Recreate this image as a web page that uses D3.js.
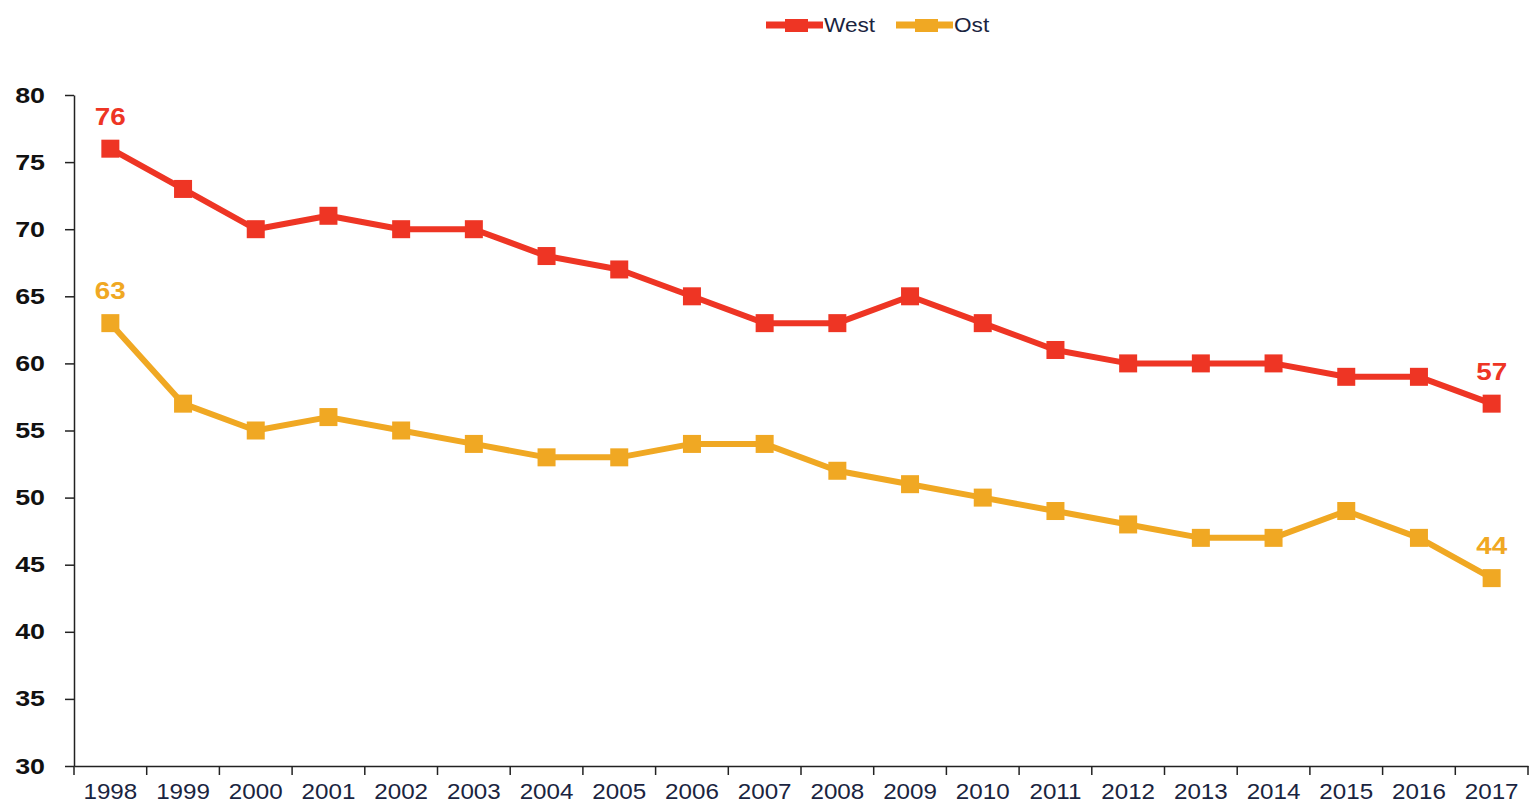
<!DOCTYPE html>
<html><head><meta charset="utf-8">
<script src="https://cdn.jsdelivr.net/npm/d3@7"></script>
<style>body{margin:0;background:#fff}svg{display:block}</style>
</head><body>
<script>
const years = ["1998","1999","2000","2001","2002","2003","2004","2005","2006","2007","2008","2009","2010","2011","2012","2013","2014","2015","2016","2017"];
const west = [76,73,70,71,70,70,68,67,65,63,63,65,63,61,60,60,60,59,59,57];
const ost  = [63,57,55,56,55,54,53,53,54,54,52,51,50,49,48,47,47,49,47,44];
const yTicks = [30,35,40,45,50,55,60,65,70,75,80];
const seriesNames = ["West","Ost"];
const colors = {West:"#EE3524", Ost:"#F0A823"};
const FONT="Liberation Sans, Arial, sans-serif";

const W=1537,H=808;
const svg=d3.select("body").append("svg").attr("width",W).attr("height",H);
const x=d3.scaleBand().domain(years).range([74,1528]);
const y=d3.scaleLinear().domain([30,80]).range([766,95]);

function stretch(sel,f){
  sel.each(function(){
    const len=this.getComputedTextLength();
    d3.select(this).attr("textLength",len*f).attr("lengthAdjust","spacingAndGlyphs");
  });
}

// y axis
const ya=svg.append("g").attr("transform","translate(74,0)")
  .call(d3.axisLeft(y).tickValues(yTicks).tickSize(9).tickPadding(20).tickSizeOuter(0));
ya.select(".domain").attr("stroke","#222").attr("stroke-width",1.5);
ya.selectAll(".tick line").attr("stroke","#222").attr("stroke-width",1.5);
ya.selectAll("text").attr("font-family",FONT).attr("font-size",22).attr("font-weight","bold").attr("fill","#111");
stretch(ya.selectAll("text"),1.22);

// x axis
const xa=svg.append("g").attr("transform","translate(0,766)")
  .call(d3.axisBottom(x).tickSize(0).tickPadding(0).tickSizeOuter(0));
xa.select(".domain").attr("stroke","#222").attr("stroke-width",1.5);
xa.selectAll("text").attr("dy",null).attr("y",33).attr("font-family",FONT).attr("font-size",22).attr("fill","#1a2440");
stretch(xa.selectAll("text"),1.1);
// boundary ticks
const bounds=years.map(d=>x(d)).concat([x(years[years.length-1])+x.bandwidth()]);
svg.append("g").selectAll("line").data(bounds).join("line")
  .attr("x1",d=>d).attr("x2",d=>d).attr("y1",766).attr("y2",775)
  .attr("stroke","#222").attr("stroke-width",1.5);

const data={West:west,Ost:ost};
const cx=d=>x(d)+x.bandwidth()/2;
const line=d3.line().x((v,i)=>cx(years[i])).y(v=>y(v));
seriesNames.forEach(name=>{
  const vals=data[name];
  svg.append("path").datum(vals).attr("d",line).attr("fill","none")
    .attr("stroke",colors[name]).attr("stroke-width",6).attr("stroke-linejoin","round");
  svg.append("g").selectAll("rect").data(vals).join("rect")
    .attr("x",(v,i)=>cx(years[i])-9).attr("y",v=>y(v)-9)
    .attr("width",18).attr("height",18).attr("fill",colors[name]);
  [0,vals.length-1].forEach(i=>{
    const t=svg.append("text").attr("x",cx(years[i])).attr("y",y(vals[i])-24)
      .attr("text-anchor","middle").attr("font-family",FONT)
      .attr("font-size",24).attr("font-weight","bold").attr("fill",colors[name]).text(vals[i]);
    stretch(t,1.16);
  });
});

// legend
const leg=[{name:"West",x0:766},{name:"Ost",x0:896}];
leg.forEach(l=>{
  const g=svg.append("g");
  g.append("line").attr("x1",l.x0).attr("x2",l.x0+57).attr("y1",25).attr("y2",25)
    .attr("stroke",colors[l.name]).attr("stroke-width",7);
  g.append("rect").attr("x",l.x0+19).attr("y",19).attr("width",23).attr("height",13).attr("fill",colors[l.name]);
  const t=g.append("text").attr("x",l.x0+58).attr("y",32).attr("font-family",FONT)
    .attr("font-size",20).attr("fill","#1a2440").text(l.name);
  stretch(t,1.13);
});
</script>
</body></html>
